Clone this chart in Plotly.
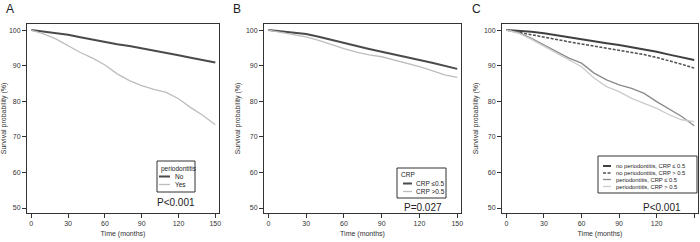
import plotly.graph_objects as go

months = [0, 10, 20, 30, 40, 50, 60, 70, 80, 90, 100, 110, 120, 130, 140, 150]

# Panel A
a_no = [100, 99.6, 99.2, 98.7, 98.0, 97.3, 96.6, 96.0, 95.5, 94.9, 94.3, 93.6, 92.9, 92.2, 91.5, 90.9]
a_yes = [100, 98.9, 97.5, 95.6, 93.7, 92.1, 90.2, 87.7, 85.8, 84.4, 83.3, 82.5, 80.7, 78.2, 76.0, 73.4]

# Panel B
b_low = [100, 99.6, 99.3, 98.9, 98.1, 97.2, 96.4, 95.6, 94.7, 93.9, 93.2, 92.4, 91.6, 90.8, 90.0, 89.1]
b_high = [100, 99.3, 98.8, 98.1, 97.1, 95.9, 94.8, 93.8, 93.0, 92.5, 91.6, 90.6, 89.7, 88.6, 87.4, 86.7]

# Panel C
c_noP_low = [100, 99.8, 99.5, 99.1, 98.5, 97.9, 97.4, 96.8, 96.3, 95.8, 95.2, 94.5, 93.9, 93.1, 92.3, 91.6]
c_noP_high = [100, 99.3, 98.7, 98.1, 97.4, 96.7, 96.1, 95.5, 94.9, 94.4, 93.8, 93.1, 92.3, 91.4, 90.4, 89.3]
c_P_low = [100, 99.3, 97.7, 95.8, 93.9, 92.1, 90.7, 87.9, 86.0, 84.6, 83.6, 82.2, 79.9, 77.8, 75.7, 73.1]
c_P_high = [100, 99.1, 97.4, 95.5, 93.5, 91.6, 89.7, 86.5, 84.1, 82.7, 80.8, 79.4, 78.0, 76.2, 74.8, 74.3]

x_ticks = [0, 30, 60, 90, 120, 150]
y_ticks = [50, 60, 70, 80, 90, 100]

FONT = "Liberation Sans, Arial"
W, H = 700, 242

STYLE = {
    "dark": dict(color="#4a4a4a", width=2, dash="solid"),
    "light": dict(color="#bdbdbd", width=1.3, dash="solid"),
    "c1": dict(color="#404040", width=2, dash="solid"),
    "c2": dict(color="#505050", width=1.5, dash="3px,1.5px"),
    "c3": dict(color="#8a8a8a", width=1.3, dash="solid"),
    "c4": dict(color="#cbcbcb", width=1.3, dash="solid"),
}

fig = go.Figure()

def tr(x, y, name, st, xa, ya):
    fig.add_trace(go.Scatter(x=x, y=y, name=name, mode="lines", showlegend=False,
                             line=STYLE[st], xaxis=xa, yaxis=ya))

tr(months, a_no, "No", "dark", "x", "y")
tr(months, a_yes, "Yes", "light", "x", "y")
tr(months, b_low, "CRP ≤0.5", "dark", "x2", "y2")
tr(months, b_high, "CRP >0.5", "light", "x2", "y2")
tr(months, c_noP_low, "no periodontitis, CRP ≤ 0.5", "c1", "x3", "y3")
tr(months, c_noP_high, "no periodontitis, CRP > 0.5", "c2", "x3", "y3")
tr(months, c_P_low, "periodontitis, CRP ≤ 0.5", "c3", "x3", "y3")
tr(months, c_P_high, "periodontitis, CRP > 0.5", "c4", "x3", "y3")

def fx(x):
    return x / W

def fy(y):
    return 1 - y / H

panels = [(27, 219), (264, 461), (502, 698)]
top, bottom = 24, 213
ydom = [fy(bottom), fy(top)]

axcommon = dict(showline=True, linecolor="#333", linewidth=1, mirror=True,
                ticks="outside", ticklen=4, tickcolor="#333", tickwidth=1,
                showgrid=False, zeroline=False, automargin=False,
                tickfont=dict(family=FONT, size=7, color="#333"))

layout = dict(width=W, height=H, autosize=False, margin=dict(l=0, r=0, t=0, b=0, autoexpand=False),
              plot_bgcolor="white", paper_bgcolor="white", showlegend=False,
              font=dict(family=FONT, color="#333"))

for i, (l, r) in enumerate(panels):
    sfx = "" if i == 0 else str(i + 1)
    layout["xaxis" + sfx] = dict(axcommon, domain=[fx(l), fx(r)], range=[-3.5, 153],
                                 tickvals=x_ticks, anchor="y" + sfx,
                                 title=dict(text="Time (months)", font=dict(size=7, family=FONT, color="#333"), standoff=4))
    layout["yaxis" + sfx] = dict(axcommon, domain=ydom, range=[48.6, 101.7],
                                 tickvals=y_ticks, anchor="x" + sfx,
                                 title=dict(text="Survival probability (%)", font=dict(size=7, family=FONT, color="#333"), standoff=4))

fig.update_layout(**layout)

def text(t, x, y, size=6.5, anchor="left"):
    fig.add_annotation(text=t, x=fx(x), y=fy(y), xref="paper", yref="paper", showarrow=False,
                       xanchor=anchor, yanchor="middle",
                       font=dict(family=FONT, size=size, color="#222"))

def legend(box, title, title_y, entries, line_x0, line_x1, text_x, size):
    fig.add_shape(type="rect", xref="paper", yref="paper", x0=fx(box[0]), y0=fy(box[1]),
                  x1=fx(box[2]), y1=fy(box[3]),
                  line=dict(color="#333", width=1), fillcolor="white", layer="above")
    if title:
        text(title, box[0] + 2, title_y, size)
    for name, st, y in entries:
        s = STYLE[st]
        fig.add_shape(type="line", xref="paper", yref="paper", x0=fx(line_x0), x1=fx(line_x1),
                      y0=fy(y), y1=fy(y),
                      line=dict(color=s["color"], width=s["width"], dash=s["dash"]), layer="above")
        text(name, text_x, y, size)

legend((157, 161, 195, 192), "periodontitis", 169,
       [("No", "dark", 176.5), ("Yes", "light", 184.5)], 159, 170, 173, 6.5)
legend((397, 168, 446, 198), "CRP", 174,
       [("CRP ≤0.5", "dark", 183.5), ("CRP >0.5", "light", 191.5)], 403, 412, 414, 6.5)
legend((598, 156, 697, 193), None, None,
       [("no periodontitis, CRP ≤ 0.5", "c1", 166), ("no periodontitis, CRP > 0.5", "c2", 173),
        ("periodontitis, CRP ≤ 0.5", "c3", 179.5), ("periodontitis, CRP > 0.5", "c4", 186.5)],
       603, 611, 614, 5.8)

for t, x, y, s, anc in [
    ("A", 4, 9, 12, "left"), ("B", 231, 9, 12, "left"), ("C", 470, 9, 12, "left"),
    ("P<0.001", 176, 202, 10, "center"), ("P=0.027", 423, 207, 10, "center"), ("P<0.001", 662, 207, 10, "center"),
]:
    text(t, x, y, s, anc)

fig.write_html("out.html", config={"displayModeBar": False},
               post_script="document.body.style.margin='0px';document.body.style.overflow='hidden';")
